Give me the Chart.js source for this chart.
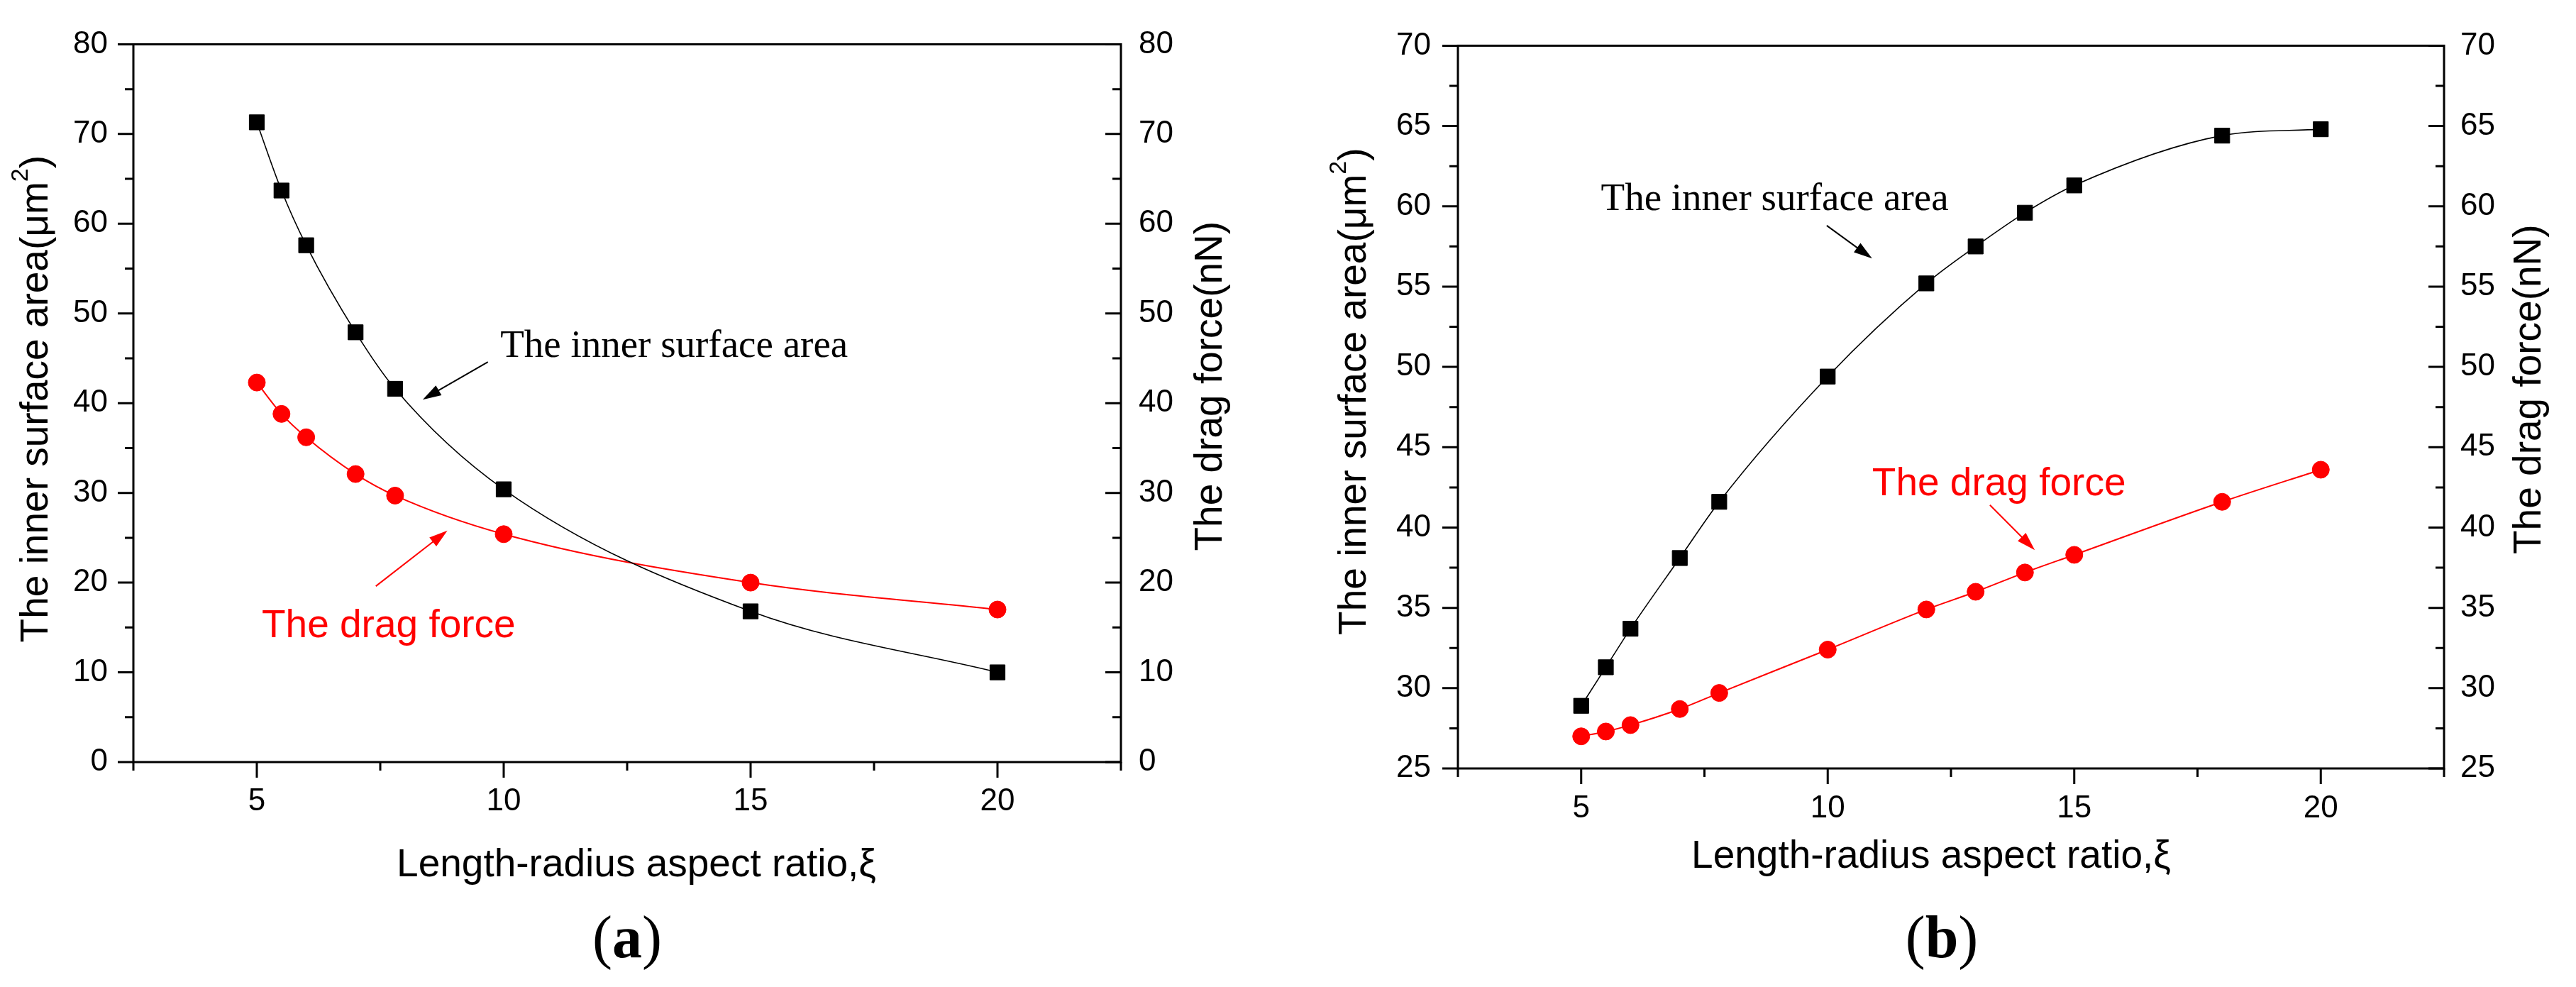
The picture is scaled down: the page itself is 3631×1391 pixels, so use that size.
<!DOCTYPE html>
<html>
<head>
<meta charset="utf-8">
<script src="https://cdn.jsdelivr.net/npm/chart.js@4.4.1/dist/chart.umd.min.js"></script>
<style>
    html, body { margin: 0; padding: 0; background: #fff; }
    body { width: 3631px; height: 1391px; position: relative; overflow: hidden; }
    canvas { position: absolute; top: 0; }
    #chart-a { left: 0; }
    #chart-b { left: 1800px; }
    .caption {
        position: absolute;
        font-family: 'Liberation Serif', 'Times New Roman', serif;
        font-size: 84px;
        line-height: 1;
        transform: translate(-50%, -50%);
        white-space: nowrap;
    }
</style>
</head>
<body>
<canvas id="chart-a" width="1800" height="1391"></canvas>
<canvas id="chart-b" width="1831" height="1391"></canvas>
<div class="caption" style="left:884px;top:1321px">(<b>a</b>)</div>
<div class="caption" style="left:2737px;top:1321px">(<b>b</b>)</div>
<script>
// Panel (a): values
const ratioA = [5, 5.5, 6, 7, 7.8, 10, 15, 20];
const areaA = [71.3, 63.7, 57.6, 47.9, 41.6, 30.4, 16.8, 10.0];
const dragA = [42.3, 38.8, 36.2, 32.1, 29.7, 25.4, 20.0, 17.0];

// Panel (b)
const ratioB = [5, 5.5, 6, 7, 7.8, 10, 12, 13, 14, 15, 18, 20];
const areaB = [28.9, 31.3, 33.7, 38.1, 41.6, 49.4, 55.2, 57.5, 59.6, 61.3, 64.4, 64.8];
const dragB = [27.0, 27.3, 27.7, 28.7, 29.7, 32.4, 34.9, 36.0, 37.2, 38.3, 41.6, 43.6];

// Tick labels
const xTickLabels = [5, 10, 15, 20];
const yTickLabelsA = [0, 10, 20, 30, 40, 50, 60, 70, 80];
const yTickLabelsB = [25, 30, 35, 40, 45, 50, 55, 60, 65, 70];

// Texts
const xTitle = 'Length-radius aspect ratio,\u03BE';
const leftTitle = ['The inner surface area(\u03BCm', '2', ')'];
const rightTitle = 'The drag force(nN)';
const areaLabel = 'The inner surface area';
const dragLabel = 'The drag force';

const SANS = "'Liberation Sans', Arial, sans-serif";
const SERIF = "'Liberation Serif', 'Times New Roman', serif";

// Helper: is v a multiple of step counted from base
function onStep(v, base, step) {
    const k = (v - base) / step;
    return Math.abs(k - Math.round(k)) < 1e-6;
}

// Helper: draw a line with a filled arrow head at (x2, y2)
function drawArrow(ctx, x1, y1, x2, y2, color) {
    const ang = Math.atan2(y2 - y1, x2 - x1);
    const len = 26, half = 8;
    ctx.strokeStyle = color;
    ctx.fillStyle = color;
    ctx.lineWidth = 2;
    ctx.beginPath();
    ctx.moveTo(x1, y1);
    ctx.lineTo(x2 - Math.cos(ang) * len * 0.8, y2 - Math.sin(ang) * len * 0.8);
    ctx.stroke();
    ctx.beginPath();
    ctx.moveTo(x2, y2);
    ctx.lineTo(x2 - Math.cos(ang) * len - Math.sin(ang) * half, y2 - Math.sin(ang) * len + Math.cos(ang) * half);
    ctx.lineTo(x2 - Math.cos(ang) * len + Math.sin(ang) * half, y2 - Math.sin(ang) * len - Math.cos(ang) * half);
    ctx.closePath();
    ctx.fill();
}

// Helper: draw rotated text made of parts (for the superscript)
function drawVerticalTitle(ctx, cx, cy, parts) {
    ctx.save();
    ctx.translate(cx, cy);
    ctx.rotate(-Math.PI / 2);
    ctx.fillStyle = '#000';
    ctx.textBaseline = 'middle';
    ctx.textAlign = 'left';
    let total = 0;
    parts.forEach(p => {
        ctx.font = p.size + 'px ' + SANS;
        p.w = ctx.measureText(p.text).width;
        total += p.w;
    });
    let x = -total / 2;
    parts.forEach(p => {
        ctx.font = p.size + 'px ' + SANS;
        ctx.fillText(p.text, x, -(p.rise || 0));
        x += p.w;
    });
    ctx.restore();
}

// Plugin: frame, major/minor ticks, titles and annotations
const decorPlugin = {
    id: 'decor',
    afterDraw(chart, args, opts) {
        const ctx = chart.ctx;
        const { left, right, top, bottom } = chart.chartArea;
        const xs = chart.scales.x, ys = chart.scales.y;
        const midX = (left + right) / 2, midY = (top + bottom) / 2;
        const major = 22, minor = 12;

        ctx.save();
        ctx.strokeStyle = '#000';
        ctx.lineWidth = 3;
        ctx.lineCap = 'butt';
        ctx.strokeRect(left, top, right - left, bottom - top);

        ctx.beginPath();
        // bottom axis, ticks pointing out
        for (let v = xs.min; v <= xs.max + 1e-6; v += 2.5) {
            const px = xs.getPixelForValue(v);
            ctx.moveTo(px, bottom);
            ctx.lineTo(px, bottom + (onStep(v, 0, 5) ? major : minor));
        }
        // left axis out, right axis in
        for (let v = ys.min; v <= ys.max + 1e-6; v += opts.yMinor) {
            const py = ys.getPixelForValue(v);
            const len = onStep(v, ys.min, opts.yMajor) ? major : minor;
            ctx.moveTo(left, py);
            ctx.lineTo(left - len, py);
            ctx.moveTo(right, py);
            ctx.lineTo(right - len, py);
        }
        ctx.stroke();

        // axis titles
        ctx.fillStyle = '#000';
        ctx.font = '55px ' + SANS;
        ctx.textAlign = 'center';
        ctx.textBaseline = 'alphabetic';
        ctx.fillText(xTitle, midX + opts.xTitleDx, bottom + opts.xTitleDy);

        drawVerticalTitle(ctx, left - opts.leftTitleDx, midY + opts.leftTitleDy, [
            { text: leftTitle[0], size: 55 },
            { text: leftTitle[1], size: 34, rise: 22 },
            { text: leftTitle[2], size: 55 }
        ]);
        drawVerticalTitle(ctx, right + opts.rightTitleDx, midY + opts.rightTitleDy, [
            { text: rightTitle, size: 55 }
        ]);

        // annotations placed in data coordinates
        const a = opts.notes;
        ctx.textAlign = 'left';
        ctx.textBaseline = 'middle';
        ctx.font = '55px ' + SERIF;
        ctx.fillStyle = '#000';
        ctx.fillText(areaLabel, xs.getPixelForValue(a.area.x), ys.getPixelForValue(a.area.y));
        drawArrow(ctx,
            xs.getPixelForValue(a.areaArrow[0]), ys.getPixelForValue(a.areaArrow[1]),
            xs.getPixelForValue(a.areaArrow[2]), ys.getPixelForValue(a.areaArrow[3]), '#000');

        ctx.font = '55px ' + SANS;
        ctx.fillStyle = '#ff0000';
        ctx.fillText(dragLabel, xs.getPixelForValue(a.drag.x), ys.getPixelForValue(a.drag.y));
        drawArrow(ctx,
            xs.getPixelForValue(a.dragArrow[0]), ys.getPixelForValue(a.dragArrow[1]),
            xs.getPixelForValue(a.dragArrow[2]), ys.getPixelForValue(a.dragArrow[3]), '#ff0000');
        ctx.restore();
    }
};

function makeChart(canvasId, cfg) {
    const tickFont = { family: SANS, size: 44 };
    const yAxis = (position, space, padding) => ({
        type: 'linear',
        position: position,
        min: cfg.yTicks[0],
        max: cfg.yTicks[cfg.yTicks.length - 1],
        grid: { display: false, drawTicks: false },
        border: { display: false },
        afterBuildTicks: s => { s.ticks = cfg.yTicks.map(v => ({ value: v })); },
        afterFit: s => { s.width = space; },
        ticks: { font: tickFont, color: '#000', padding: padding }
    });

    return new Chart(document.getElementById(canvasId), {
        type: 'line',
        data: {
            datasets: [
                {
                    data: cfg.ratio.map((r, i) => ({ x: r, y: cfg.area[i] })),
                    yAxisID: 'y',
                    borderColor: '#000',
                    backgroundColor: '#000',
                    borderWidth: 1.6,
                    pointStyle: 'rect',
                    pointRadius: 15,
                    pointBorderWidth: 1,
                    cubicInterpolationMode: 'monotone'
                },
                {
                    data: cfg.ratio.map((r, i) => ({ x: r, y: cfg.drag[i] })),
                    yAxisID: 'y1',
                    borderColor: '#ff0000',
                    backgroundColor: '#ff0000',
                    borderWidth: 2,
                    pointStyle: 'circle',
                    pointRadius: 12,
                    pointBorderWidth: 1,
                    cubicInterpolationMode: 'monotone'
                }
            ]
        },
        options: {
            responsive: false,
            animation: false,
            devicePixelRatio: 1,
            layout: { padding: { top: cfg.top, left: 0, right: 0, bottom: 0 } },
            plugins: {
                legend: { display: false },
                tooltip: { enabled: false },
                decor: cfg.decor
            },
            scales: {
                x: {
                    type: 'linear',
                    min: 2.5,
                    max: 22.5,
                    grid: { display: false, drawTicks: false },
                    border: { display: false },
                    afterBuildTicks: s => { s.ticks = xTickLabels.map(v => ({ value: v })); },
                    afterFit: s => { s.height = cfg.bottomSpace; },
                    ticks: { font: tickFont, color: '#000', padding: cfg.xPad, maxRotation: 0 }
                },
                y: yAxis('left', cfg.leftSpace, cfg.leftPad),
                y1: yAxis('right', cfg.rightSpace, cfg.rightPad)
            }
        },
        plugins: [decorPlugin]
    });
}

makeChart('chart-a', {
    ratio: ratioA, area: areaA, drag: dragA, yTicks: yTickLabelsA,
    top: 49, bottomSpace: 317, leftSpace: 188, rightSpace: 220,
    xPad: 29, leftPad: 36, rightPad: 25,
    decor: {
        yMajor: 10, yMinor: 5,
        xTitleDx: 13, xTitleDy: 161,
        leftTitleDx: 136, leftTitleDy: -6,
        rightTitleDx: 127, rightTitleDy: -24,
        notes: {
            area: { x: 9.93, y: 46.3 },
            areaArrow: [9.68, 44.6, 8.36, 40.4],
            drag: { x: 5.1, y: 15.1 },
            dragArrow: [7.41, 19.6, 8.86, 25.8]
        }
    }
});

makeChart('chart-b', {
    ratio: ratioB, area: areaB, drag: dragB, yTicks: yTickLabelsB,
    top: 57, bottomSpace: 308, leftSpace: 255, rightSpace: 186,
    xPad: 30, leftPad: 38, rightPad: 23,
    decor: {
        yMajor: 5, yMinor: 2.5,
        xTitleDx: -28, xTitleDy: 140,
        leftTitleDx: 145, leftTitleDy: -22,
        rightTitleDx: 121, rightTitleDy: -25,
        notes: {
            area: { x: 5.4, y: 60.4 },
            areaArrow: [9.98, 58.8, 10.9, 56.75],
            drag: { x: 10.9, y: 42.7 },
            dragArrow: [13.29, 41.4, 14.2, 38.6]
        }
    }
});
</script>
</body>
</html>
